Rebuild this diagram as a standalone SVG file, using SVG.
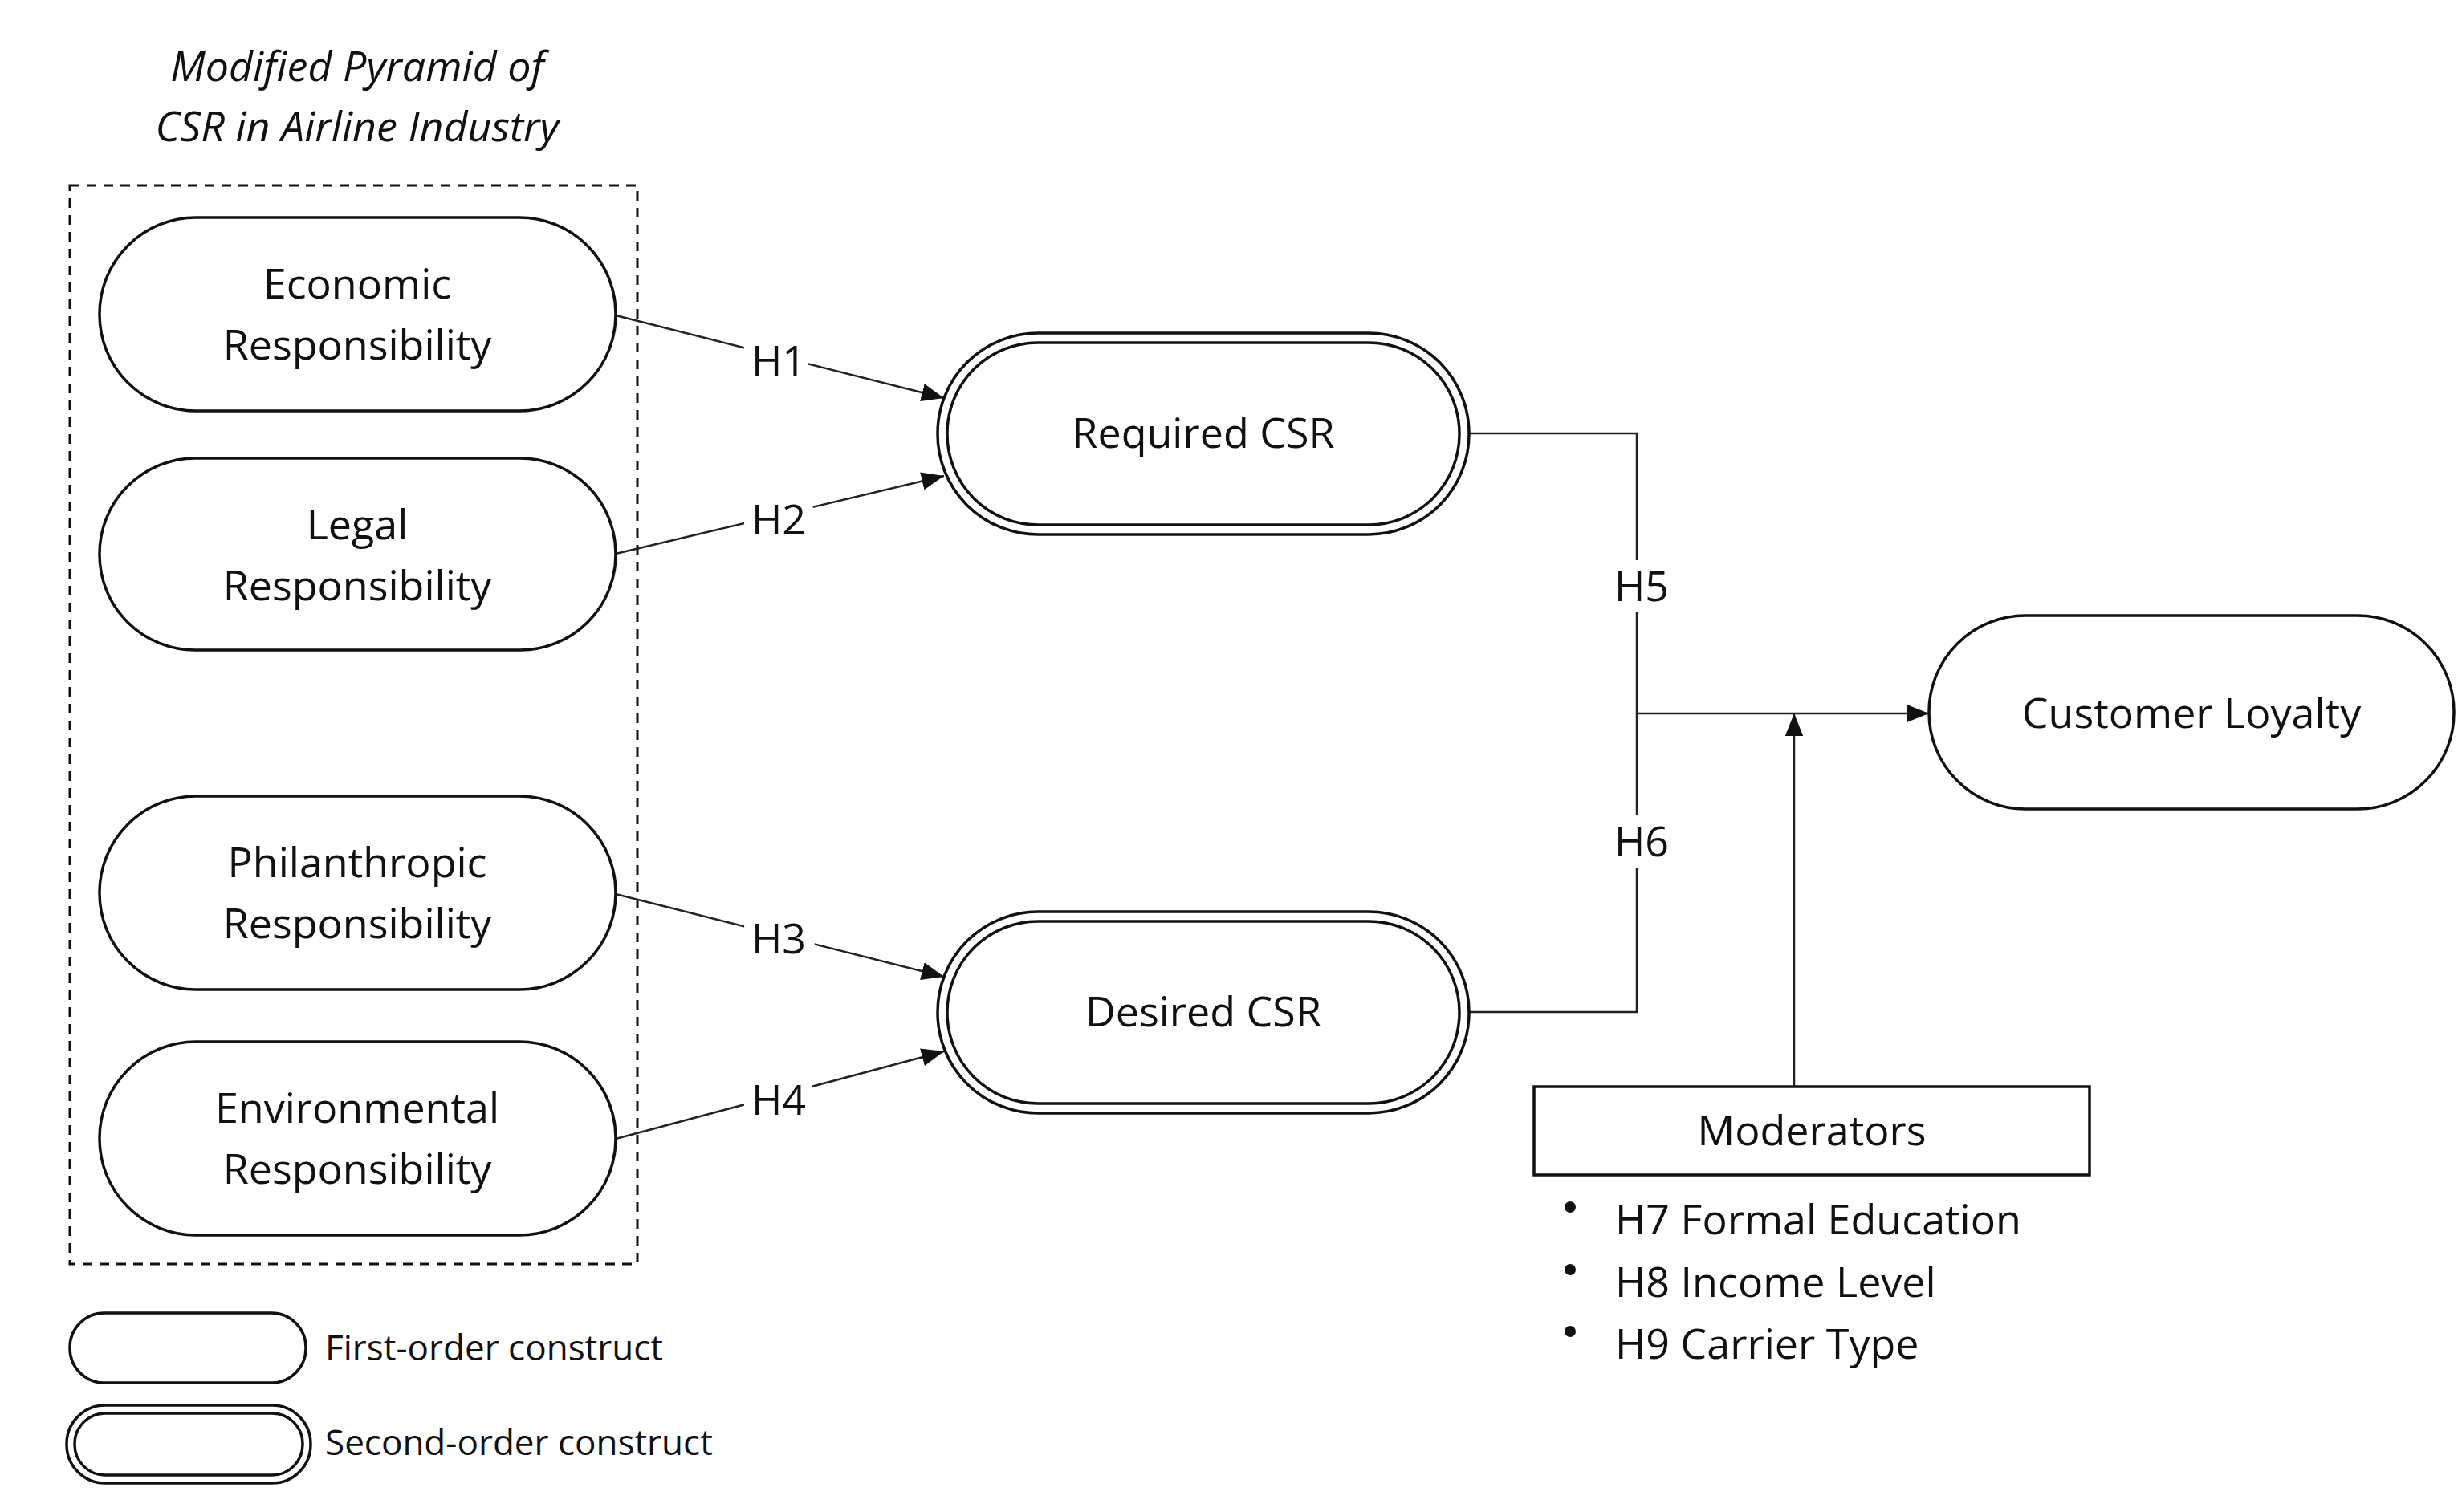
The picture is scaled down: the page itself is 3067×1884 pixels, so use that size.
<svg xmlns="http://www.w3.org/2000/svg" width="3067" height="1884" viewBox="0 0 3067 1884">
<style>
text{font-family:"Open Sans","Noto Sans","DejaVu Sans",sans-serif;fill:#111;text-anchor:middle}
.n{font-size:52px}
.lg{font-size:44px;text-anchor:start}
.s{fill:#fff;stroke:#111;stroke-width:3.5}
.c{fill:none;stroke:#222;stroke-width:2.5}
.lbl{font-size:52px;paint-order:stroke;stroke:#fff;stroke-width:28px}
</style>
<defs>
<marker id="a" viewBox="0 0 10 10" refX="10" refY="5" markerWidth="12" markerHeight="12" markerUnits="userSpaceOnUse" orient="auto"><path d="M0,0L10,5L0,10z" fill="#111"/></marker>
<marker id="b" viewBox="0 0 10 10" refX="10" refY="5" markerWidth="28" markerHeight="28" markerUnits="userSpaceOnUse" orient="auto"><path d="M0,1L10,5L0,9z" fill="#111"/></marker>
</defs>
<text x="445" y="101" style="font-size:52px;font-style:italic">Modified Pyramid of</text>
<text x="445" y="176" style="font-size:52px;font-style:italic">CSR in Airline Industry</text>
<rect x="87" y="231" width="707" height="1344" fill="none" stroke="#111" stroke-width="3" stroke-dasharray="12,9"/>
<g id="connectors">
<line class="c" x1="767" y1="393" x2="1176" y2="496" marker-end="url(#b)"/>
<line class="c" x1="767" y1="690" x2="1176" y2="593" marker-end="url(#b)"/>
<line class="c" x1="767" y1="1114" x2="1176" y2="1217" marker-end="url(#b)"/>
<line class="c" x1="767" y1="1419" x2="1176" y2="1310" marker-end="url(#b)"/>
<polyline class="c" points="1830,540 2039,540 2039,1261 1830,1261"/>
<line class="c" x1="2039" y1="889" x2="2403" y2="889" marker-end="url(#b)"/>
<line class="c" x1="2235" y1="1354" x2="2235" y2="889" marker-end="url(#b)"/>
<text class="lbl" x="970" y="468">H1</text>
<text class="lbl" x="970" y="666">H2</text>
<text class="lbl" x="970" y="1188">H3</text>
<text class="lbl" x="970" y="1389">H4</text>
<text class="lbl" x="2045" y="749">H5</text>
<text class="lbl" x="2045" y="1067">H6</text>
</g>
<g id="economic"><rect class="s" x="124" y="271" width="643" height="241" rx="120"/><text class="n" x="445" y="372">Economic</text><text class="n" x="445" y="448">Responsibility</text></g>
<g id="legal"><rect class="s" x="124" y="571" width="643" height="239" rx="119"/><text class="n" x="445" y="672">Legal</text><text class="n" x="445" y="748">Responsibility</text></g>
<g id="philanthropic"><rect class="s" x="124" y="992" width="643" height="241" rx="120"/><text class="n" x="445" y="1093">Philanthropic</text><text class="n" x="445" y="1169">Responsibility</text></g>
<g id="environmental"><rect class="s" x="124" y="1298" width="643" height="241" rx="120"/><text class="n" x="445" y="1399">Environmental</text><text class="n" x="445" y="1475">Responsibility</text></g>
<g id="required"><rect class="s" x="1168" y="415" width="662" height="251" rx="125"/><rect class="s" x="1180" y="427" width="638" height="227" rx="113"/><text class="n" x="1499" y="558">Required CSR</text></g>
<g id="desired"><rect class="s" x="1168" y="1136" width="662" height="251" rx="125"/><rect class="s" x="1180" y="1148" width="638" height="227" rx="113"/><text class="n" x="1499" y="1279">Desired CSR</text></g>
<g id="loyalty"><rect class="s" x="2403" y="767" width="654" height="241" rx="120"/><text class="n" x="2730" y="907">Customer Loyalty</text></g>
<g id="moderators"><rect class="s" x="1911" y="1354" width="692" height="110"/><text class="n" x="2257" y="1427">Moderators</text>
<g style="text-anchor:start"><circle cx="1956" cy="1504" r="7" fill="#111"/><circle cx="1956" cy="1582" r="7" fill="#111"/><circle cx="1956" cy="1659" r="7" fill="#111"/>
<text class="n" x="2012" y="1538" style="text-anchor:start">H7 Formal Education</text>
<text class="n" x="2012" y="1616" style="text-anchor:start">H8 Income Level</text>
<text class="n" x="2012" y="1693" style="text-anchor:start">H9 Carrier Type</text></g></g>
<g id="legend">
<rect class="s" x="87" y="1636" width="294" height="87" rx="43"/><text class="lg" x="405" y="1695">First-order construct</text>
<rect class="s" x="83" y="1751" width="304" height="97" rx="48"/><rect class="s" x="93" y="1761" width="284" height="77" rx="38"/><text class="lg" x="405" y="1813">Second-order construct</text>
</g>
</svg>
